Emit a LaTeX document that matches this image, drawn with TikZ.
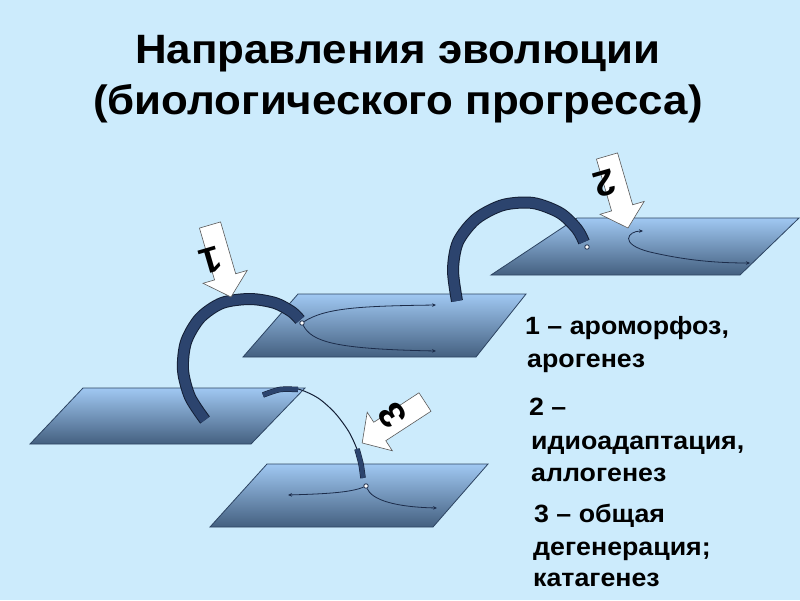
\documentclass[tikz,border=0pt]{standalone}
\usepackage{fontspec}
\setmainfont{Liberation Sans}[FakeStretch=1.07]
\usetikzlibrary{arrows.meta}
\definecolor{bg}{RGB}{204,235,252}
\definecolor{planetop}{RGB}{160,200,242}
\definecolor{planebot}{RGB}{68,96,128}
\definecolor{planeedge}{RGB}{45,68,98}
\definecolor{bandcol}{RGB}{44,68,110}
\definecolor{bandedge}{RGB}{20,32,55}
\definecolor{curvecol}{RGB}{28,44,74}
\tikzset{
  plane/.style={draw=planeedge, line width=0.8pt, top color=planetop, bottom color=planebot},
  bandthick/.style={draw=bandcol, line width=10pt, preaction={draw=bandedge, line width=12pt}},
  bandthin/.style={draw=bandcol, line width=4.5pt, preaction={draw=bandedge, line width=5.5pt}},
  thinarc/.style={draw=bandedge, line width=1pt},
  fork/.style={draw=curvecol, line width=0.8pt, -{Stealth[length=4pt,width=3.5pt]}},
  junction/.style={circle, draw=curvecol, fill=white, line width=0.8pt, inner sep=0pt, minimum size=4.5pt},
  blockarrow/.style={fill=white, draw=black!65, line width=0.6pt},
  numtxt/.style={font=\bfseries\fontsize{36}{38}\selectfont, inner sep=0pt},
  titletxt/.style={font=\bfseries\fontsize{41}{46}\selectfont, anchor=base, inner sep=0pt},
  legtxt/.style={font=\bfseries\fontsize{25}{29}\selectfont, anchor=base west, inner sep=0pt}
}
\begin{document}
\begin{tikzpicture}[x=1pt,y=-1pt]
\useasboundingbox (0,0) rectangle (800,600);
\fill[bg] (0,0) rectangle (800,600);

% title
\node[titletxt] (t1) at (398,63) {Направления эволюции};
\node[titletxt] (t2) at (398,114) {(биологического прогресса)};

% planes
\draw[plane] (298,294) -- (526,294) -- (476,357) -- (243,357) -- cycle;
\draw[plane] (577,218) -- (799,218) -- (740,275) -- (491,275) -- cycle;
\draw[plane] (83,388) -- (305,388) -- (251,444) -- (30,444) -- cycle;
\draw[plane] (267,464) -- (488,464) -- (433,527) -- (210,527) -- cycle;

% arc 1 (plane C -> plane A)
\draw[bandthick] plot[smooth] coordinates {(205,420) (190,397) (183,370) (186,342) (200,318) (222,303) (250,299) (275,303) (292,312) (300,320)};
% arc 2 (plane A -> plane B)
\draw[bandthick] plot[smooth] coordinates {(457,301) (453,270) (458,242) (476,219) (503,205) (533,203) (560,213) (577,229) (584,242)};
% arc 3 (plane C -> plane D)
\draw[thinarc] plot[smooth] coordinates {(263,395) (280,389) (298,389) (318,398) (335,413) (349,432) (358,452) (362,470) (363,478)};
\draw[bandthin] plot[smooth] coordinates {(263,395) (280,389.5) (298,389.5)};
\draw[bandthin] plot[smooth] coordinates {(357,449) (361,464) (363,478)};

% junctions and forks
\coordinate (a1) at (436,305);
\coordinate (a2) at (436,351);
\coordinate (d1) at (288,495);
\coordinate (d2) at (437,508);
\coordinate (b1) at (643,231);
\coordinate (b2) at (750,263);
\node[junction] (jA) at (302,323) {};
\node[junction] (jB) at (587,247) {};
\node[junction] (jD) at (366,486) {};
\draw[fork] (jA) .. controls (325,308) and (360,306) .. (a1);
\draw[fork] (jA) .. controls (312,342) and (335,349) .. (a2);
\draw[fork] (jD) .. controls (350,493) and (320,494) .. (d1);
\draw[fork] (jD) .. controls (372,500) and (395,507) .. (d2);
\draw[fork, {Stealth[length=4pt,width=3.5pt]}-{Stealth[length=4pt,width=3.5pt]}] (b1) .. controls (628,231) and (618,244) .. (650,252) .. controls (680,259) and (710,263) .. (b2);

% block arrows with numbers
\begin{scope}[shift={(210,225)}, rotate=-73.74]
  \draw[blockarrow] (0,11) -- (54,11) -- (54,23) -- (75,0) -- (54,-23) -- (54,-11) -- (0,-11) -- cycle;
  \node[numtxt, rotate=-163.74] (n1) at (34,8.8) {1};
\end{scope}
\begin{scope}[shift={(607,156)}, rotate=-73.74]
  \draw[blockarrow] (0,11) -- (54,11) -- (54,23) -- (75,0) -- (54,-23) -- (54,-11) -- (0,-11) -- cycle;
  \node[numtxt, rotate=-163.74] (n2) at (26,9.8) {2};
\end{scope}
\begin{scope}[shift={(425,402)}, rotate=-146.9]
  \draw[blockarrow] (0,11) -- (54,11) -- (54,23) -- (75,0) -- (54,-23) -- (54,-11) -- (0,-11) -- cycle;
  \node[numtxt, rotate=123.1] (n3) at (35,7) {3};
\end{scope}

% legend
\node[legtxt] (l1) at (525,334) {1 – ароморфоз,};
\node[legtxt] (l2) at (527,367) {арогенез};
\node[legtxt] (l3) at (529,415) {2 –};
\node[legtxt] (l4) at (531,449) {идиоадаптация,};
\node[legtxt] (l5) at (531,481) {аллогенез};
\node[legtxt] (l6) at (534,522) {3 – общая};
\node[legtxt] (l7) at (533,555) {дегенерация;};
\node[legtxt] (l8) at (533,586) {катагенез};
\end{tikzpicture}
\end{document}
